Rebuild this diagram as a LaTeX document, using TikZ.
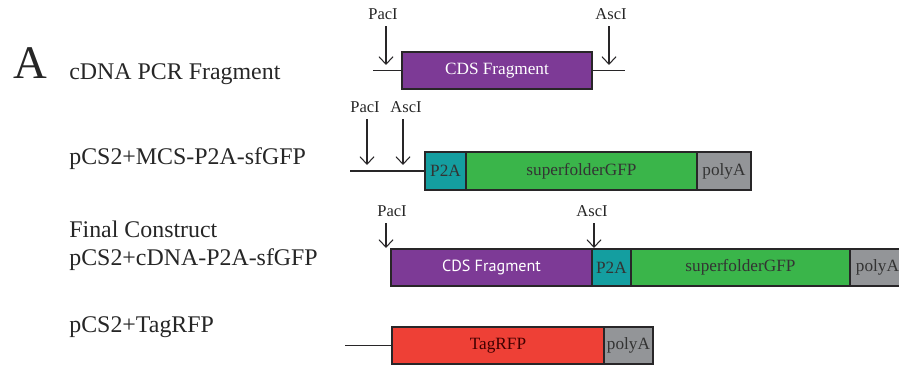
\documentclass[tikz,border=0pt]{standalone}
\usepackage{fontspec}
\setmainfont{Liberation Serif}
\newfontfamily\cdssans{PT Sans}
\usetikzlibrary{arrows.meta,positioning}
\definecolor{cdspurple}{RGB}{125,58,150}
\definecolor{ptwoa}{RGB}{20,158,160}
\definecolor{sfgreen}{RGB}{58,181,74}
\definecolor{polygray}{RGB}{147,149,152}
\definecolor{tagred}{RGB}{238,64,54}
\definecolor{outline}{RGB}{40,38,40}
\tikzset{
  part/.style={draw=outline, line width=0.9pt, minimum height=0.75cm, inner sep=0pt, outer sep=0pt,
    font=\fontsize{9.8}{11}\selectfont, text=black!80},
  backbone/.style={line width=0.9pt, outline},
  cut/.style={-{Straight Barb[length=1.5mm,width=2.8mm]}, line width=0.6pt, outline, shorten <=1.3mm},
  site/.style={inner sep=0pt, font=\fontsize{9.4}{10}\selectfont, text=black!85},
  rowlabel/.style={anchor=base west, inner sep=0pt, font=\fontsize{13.6}{15}\selectfont, text=black!85},
}
\begin{document}
\begin{tikzpicture}[x=0.02cm,y=-0.02cm]
  \useasboundingbox (0,0) rectangle (899,375);
  \clip (0,0) rectangle (899,375);
  % row titles
  \node[rowlabel, font=\fontsize{26.6}{28}\selectfont] (panel) at (13,79) {A};
  \node[rowlabel] (t1) at (69,80) {cDNA PCR Fragment};
  \node[rowlabel] (t2) at (69,164) {pCS2+MCS-P2A-sfGFP};
  \node[rowlabel] (t3a) at (69,237) {Final Construct};
  \node[rowlabel] (t3b) at (69,265) {pCS2+cDNA-P2A-sfGFP};
  \node[rowlabel] (t4) at (69,332) {pCS2+TagRFP};

  % cDNA PCR fragment
  \coordinate (l1a) at (373,70.5);
  \coordinate (l1b) at (625,70.5);
  \draw[backbone] (l1a) -- (l1b);
  \node[part, anchor=west, fill=cdspurple, minimum width=3.8cm, text=white] (cds1) at (402,70.5) {CDS Fragment};
  \node[site] (pac1) at (383,14) {PacI};
  \node[site] (asc1) at (611,14) {AscI};
  \coordinate (pac1cut) at (386,65);
  \coordinate (asc1cut) at (609,65);
  \draw[cut] (pac1.south -| pac1cut) -- (pac1cut);
  \draw[cut] (asc1.south -| asc1cut) -- (asc1cut);

  % pCS2+MCS-P2A-sfGFP
  \coordinate (l2a) at (350,171);
  \node[part, anchor=west, fill=ptwoa, minimum width=0.82cm] (p2a2) at (425,171) {P2A};
  \node[part, fill=sfgreen, minimum width=4.62cm, right=0pt of p2a2] (gfp2) {superfolderGFP};
  \node[part, fill=polygray, minimum width=1.08cm, right=0pt of gfp2] (pa2) {polyA};
  \draw[backbone] (l2a) -- (p2a2.west);
  \node[site] (pac2) at (365,107) {PacI};
  \node[site] (asc2) at (406,107) {AscI};
  \coordinate (pac2cut) at (367,165);
  \coordinate (asc2cut) at (403,165);
  \draw[cut] (pac2.south -| pac2cut) -- (pac2cut);
  \draw[cut] (asc2.south -| asc2cut) -- (asc2cut);

  % final construct
  \node[part, anchor=west, fill=cdspurple, minimum width=4.02cm, text=white,
    font=\cdssans\fontsize{9.2}{11}\selectfont] (cds3) at (391,267.5) {CDS Fragment};
  \node[part, fill=ptwoa, minimum width=0.78cm, right=0pt of cds3] (p2a3) {P2A};
  \node[part, fill=sfgreen, minimum width=4.38cm, right=0pt of p2a3] (gfp3) {superfolderGFP};
  \node[part, fill=polygray, minimum width=1.1cm, right=0pt of gfp3] (pa3) {polyA};
  \node[site] (pac3) at (392,211) {PacI};
  \node[site] (asc3) at (592,211) {AscI};
  \coordinate (pac3cut) at (386,248);
  \coordinate (asc3cut) at (594,248);
  \draw[cut] (pac3.south -| pac3cut) -- (pac3cut);
  \draw[cut] (asc3.south -| asc3cut) -- (asc3cut);

  % pCS2+TagRFP
  \coordinate (l4a) at (345,345.5);
  \node[part, anchor=west, fill=tagred, minimum width=4.24cm, text=black!75!red] (rfp4) at (392,345.5) {TagRFP};
  \node[part, fill=polygray, minimum width=0.98cm, right=0pt of rfp4] (pa4) {polyA};
  \draw[backbone] (l4a) -- (rfp4.west);
\end{tikzpicture}
\end{document}
